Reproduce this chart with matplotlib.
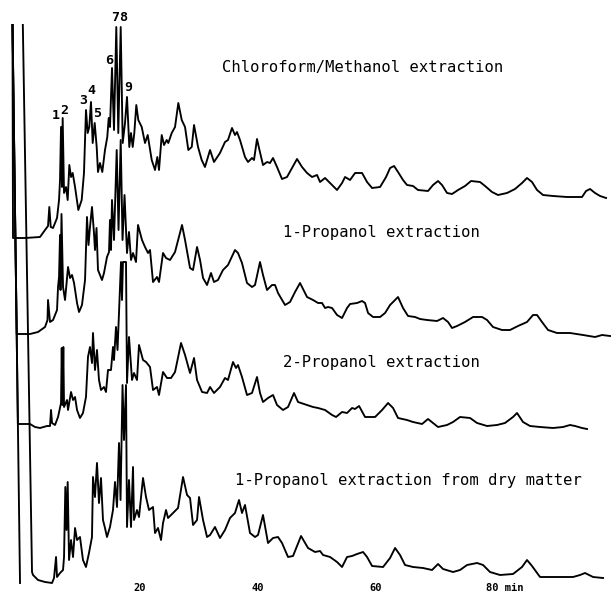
import matplotlib.pyplot as plt

# Retention time (min) and detector signal (arbitrary units, relative to the
# starting baseline of each run).

# Chloroform/Methanol extraction
cm_time = [-1.67, -1.58, 0.46, 3.01, 3.86, 4.37, 4.59, 4.83, 5.22, 5.90, 6.24, 6.41, 6.58, 6.75, 6.86,
           7.09, 7.43, 7.71, 7.99, 8.28, 8.56, 8.96, 9.52, 10.09, 10.48, 10.82, 11.11, 11.38, 11.67,
           11.96, 12.30, 12.64, 12.86, 13.20, 13.59, 14.05, 14.44, 14.68, 14.90, 15.24, 15.58, 15.97,
           16.31, 16.72, 17.06, 17.45, 17.79, 18.18, 18.47, 18.76, 19.03, 19.37, 19.71, 20.29, 20.85,
           21.31, 21.99, 22.55, 22.94, 23.23, 23.69, 24.08, 24.54, 24.81, 25.39, 25.95, 26.51, 27.09,
           27.65, 28.21, 28.79, 29.18, 29.86, 30.48, 31.04, 31.90, 32.57, 33.59, 34.44, 34.95, 35.63,
           36.14, 36.48, 36.99, 37.84, 38.35, 39.03, 39.37, 39.88, 40.22, 40.90, 41.58, 42.09, 42.60,
           43.28, 44.13, 44.98, 45.83, 46.68, 47.53, 48.38, 49.23, 50.08, 50.59, 51.44, 52.29, 53.48,
           54.33, 54.84, 55.69, 56.54, 57.73, 58.58, 59.43, 60.79, 61.81, 62.49, 63.17, 63.84, 64.69,
           65.37, 66.39, 67.24, 68.94, 69.79, 70.64, 71.32, 72.17, 73.02, 74.04, 75.23, 76.25, 77.78,
           78.63, 79.81, 80.83, 82.36, 83.72, 84.91, 85.76, 86.61, 87.46, 88.48, 90.18, 92.56, 95.11,
           95.79, 96.47, 97.32, 98.17, 99.19]
cm_signal = [214, 0, 0, 1, 8, 12, 31, 11, 10, 20, 38, 58, 111, 51, 120,
             45, 51, 38, 73, 61, 65, 51, 28, 38, 65, 128, 105, 111, 136,
             95, 115, 91, 66, 75, 66, 88, 101, 120, 111, 170, 108, 211,
             105, 211, 95, 115, 141, 91, 105, 91, 105, 133, 118, 111, 95,
             103, 78, 68, 81, 68, 103, 93, 98, 95, 105, 111, 135, 118,
             111, 88, 91, 113, 91, 78, 71, 88, 76, 85, 96, 98, 110,
             103, 106, 98, 81, 76, 80, 78, 99, 90, 73, 76, 75, 80,
             71, 59, 61, 70, 79, 71, 65, 61, 63, 56, 60, 55, 48,
             55, 61, 58, 65, 65, 56, 50, 51, 61, 70, 72, 66, 58,
             53, 52, 48, 47, 53, 57, 53, 45, 44, 48, 52, 57, 56,
             52, 46, 43, 45, 49, 55, 60, 56, 48, 43, 42, 41, 41,
             47, 49, 45, 42, 40]

# 1-Propanol extraction
p1_time = [-1.67, -0.95, 1.31, 2.67, 3.86, 4.28, 4.37, 4.71, 5.22, 5.90, 6.07, 6.24, 6.41, 6.49, 6.66,
           6.92, 7.26, 7.77, 8.11, 8.45, 8.79, 9.30, 9.64, 10.14, 10.66, 10.99, 11.25, 11.50, 11.84,
           12.18, 12.35, 12.61, 12.86, 13.54, 13.88, 14.39, 14.73, 14.90, 15.07, 15.24, 15.58, 16.04,
           16.35, 16.72, 17.03, 17.37, 17.79, 18.13, 18.47, 18.81, 19.32, 19.66, 20.34, 20.85, 21.36,
           21.70, 22.21, 22.89, 23.23, 23.91, 24.42, 25.10, 25.95, 27.14, 27.65, 28.50, 29.01, 29.69,
           30.20, 30.71, 31.39, 32.06, 32.57, 33.25, 34.10, 34.95, 36.14, 36.65, 37.33, 38.18, 39.03,
           39.54, 40.39, 40.90, 41.58, 42.43, 42.94, 43.45, 44.64, 45.49, 46.34, 47.19, 48.38, 49.40,
           50.25, 50.93, 51.44, 51.95, 52.63, 53.48, 54.33, 55.18, 55.69, 56.88, 57.73, 58.24, 58.75,
           59.60, 60.79, 61.64, 62.49, 63.84, 64.69, 65.54, 66.73, 67.58, 68.77, 70.47, 71.49, 72.34,
           73.02, 73.87, 75.23, 76.59, 78.12, 78.97, 79.98, 81.51, 82.87, 84.23, 85.76, 86.78, 87.46,
           88.31, 89.33, 90.86, 93.07, 95.28, 97.32, 98.51, 99.87]
p1_signal = [310, 0, 0, 2, 7, 14, 34, 12, 14, 24, 47, 57, 99, 44, 120,
             47, 34, 67, 56, 59, 51, 31, 22, 29, 54, 117, 89, 107, 127,
             101, 84, 106, 64, 54, 61, 77, 82, 114, 84, 134, 94, 184,
             104, 194, 94, 139, 81, 102, 74, 81, 72, 109, 94, 87, 81,
             84, 52, 57, 52, 81, 76, 74, 82, 109, 94, 66, 64, 87,
             74, 56, 49, 61, 52, 54, 64, 69, 84, 81, 71, 51, 47,
             49, 72, 59, 44, 49, 49, 41, 29, 32, 42, 51, 37, 34,
             31, 31, 26, 27, 26, 19, 16, 26, 30, 31, 33, 31, 21,
             17, 17, 21, 29, 37, 26, 18, 17, 15, 14, 13, 16, 12,
             6, 8, 12, 17, 17, 14, 7, 4, 4, 8, 12, 19, 19,
             12, 4, 1, 1, -1, -3, -1, -2]

# 2-Propanol extraction
p2_time = [-1.67, -0.75, 1.31, 2.16, 3.01, 4.20, 4.71, 4.88, 5.05, 5.56, 6.07, 6.58, 6.70, 6.83, 6.97,
           7.09, 7.60, 7.77, 8.28, 8.62, 8.96, 9.30, 9.80, 10.31, 10.82, 11.16, 11.50, 11.84, 12.01,
           12.35, 12.69, 13.03, 13.37, 13.88, 14.22, 14.56, 15.07, 15.41, 15.58, 15.92, 16.18, 16.52,
           16.77, 16.94, 17.10, 17.62, 17.79, 18.13, 18.64, 18.98, 19.49, 19.83, 20.51, 21.02, 21.70,
           22.21, 22.89, 23.23, 23.91, 24.59, 25.27, 25.95, 26.97, 27.65, 28.50, 29.18, 29.69, 30.54,
           31.39, 31.90, 32.57, 33.59, 34.44, 34.95, 35.80, 36.31, 36.65, 37.33, 38.18, 39.03, 39.88,
           40.39, 40.90, 41.75, 42.60, 43.28, 44.30, 45.15, 46.17, 46.85, 48.38, 49.40, 50.25, 51.44,
           52.63, 53.31, 54.33, 55.18, 56.03, 56.54, 57.22, 58.24, 59.94, 61.13, 62.15, 63.00, 63.84,
           65.37, 66.39, 67.92, 68.94, 69.79, 70.64, 72.17, 73.19, 74.38, 76.08, 77.27, 78.97, 80.66,
           82.02, 83.38, 84.06, 85.08, 86.27, 87.97, 90.18, 91.88, 93.07, 93.92, 95.11, 95.96]
p2_signal = [400, 0, 0, -3, -4, -2, -2, 14, 1, -1, 7, 21, 76, 19, 77,
             17, 24, 14, 32, 24, 27, 14, 6, 11, 27, 67, 77, 61, 91,
             54, 74, 44, 34, 37, 32, 54, 54, 77, 64, 97, 74, 124,
             162, 124, 162, 162, 41, 87, 44, 51, 44, 79, 64, 62, 57,
             34, 37, 29, 52, 46, 46, 52, 81, 69, 51, 66, 44, 32,
             31, 37, 31, 37, 46, 44, 62, 56, 59, 47, 29, 31, 47,
             31, 22, 26, 29, 19, 14, 17, 31, 22, 19, 17, 16, 14,
             9, 7, 12, 11, 16, 15, 18, 7, 7, 14, 21, 16, 6,
             4, 2, 0, 5, 1, -3, -1, 2, 7, 6, 1, -2, -1,
             1, 7, 11, 2, -2, -3, -4, -3, -1, -2, -4, -5]

# 1-Propanol extraction from dry matter
dm_time = [-0.39, -1.75, -0.03, 1.65, 1.82, 2.67, 3.86, 5.05, 5.39, 5.73, 5.90, 6.41, 6.92, 7.09, 7.31,
           7.51, 7.71, 7.94, 8.28, 8.62, 8.96, 9.30, 9.80, 10.31, 10.82, 11.33, 11.84, 12.01, 12.35,
           12.69, 13.03, 13.37, 13.71, 14.05, 14.39, 14.90, 15.41, 15.75, 16.09, 16.43, 16.69, 17.03,
           17.28, 17.62, 17.79, 18.13, 18.47, 18.81, 18.98, 19.49, 19.83, 20.51, 21.02, 21.53, 22.21,
           22.55, 23.06, 23.57, 23.91, 24.42, 24.76, 25.61, 26.46, 27.31, 27.99, 28.50, 29.01, 29.69,
           30.03, 30.71, 31.39, 31.90, 32.74, 33.59, 34.44, 35.29, 36.14, 36.82, 37.33, 37.84, 38.69,
           39.54, 40.05, 40.90, 41.75, 42.60, 43.45, 44.13, 45.15, 46.00, 47.36, 48.55, 49.74, 50.59,
           51.10, 52.29, 53.48, 54.33, 55.18, 56.03, 56.88, 57.90, 58.58, 59.43, 61.30, 62.49, 63.34,
           64.18, 65.03, 66.39, 68.09, 69.62, 70.64, 71.49, 73.19, 74.38, 75.57, 77.27, 78.29, 79.47,
           81.17, 83.38, 84.91, 85.76, 86.61, 87.97, 90.86, 93.58, 94.77, 95.62, 96.98, 98.68]
dm_signal = [0, 600, 600, 11, 8, 3, 1, 0, 5, 26, 6, 10, 13, 26, 96,
             53, 101, 23, 43, 26, 55, 43, 46, 23, 16, 30, 46, 106, 86,
             120, 80, 105, 63, 55, 46, 56, 73, 101, 76, 140, 83, 198,
             143, 198, 56, 103, 56, 116, 63, 73, 66, 105, 86, 73, 76,
             50, 55, 43, 60, 73, 65, 70, 75, 106, 88, 85, 58, 63,
             86, 63, 46, 48, 56, 45, 53, 65, 70, 83, 70, 78, 50,
             46, 48, 68, 40, 45, 46, 40, 26, 27, 47, 35, 31, 32,
             28, 26, 21, 16, 26, 27, 29, 31, 26, 17, 16, 25, 35,
             28, 18, 16, 15, 13, 19, 14, 11, 13, 18, 20, 18, 11,
             8, 9, 16, 23, 17, 6, 6, 6, 8, 10, 6, 5]

run_names = ["Chloroform/Methanol extraction", "1-Propanol extraction",
             "2-Propanol extraction", "1-Propanol extraction from dry matter"]

# peak numbering on the top run
peak_ids = ["1", "2", "3", "4", "5", "6", "7", "8", "9"]
peak_times = [5.75, 7.1, 10.3, 11.75, 12.75, 14.7, 15.75, 17.15, 18.0]

tick_minutes = [20, 40, 60, 80]
tick_labels = ["20", "40", "60", "80 min"]

# ---- layout (stacking of the recorder traces) ----
offsets = [355, 259, 169, 10]
label_pos = [(33.9, 526), (44.3, 361), (44.3, 230), (36.1, 112)]
peak_label_y = [478, 483, 493, 503, 480, 533, 576, 576, 506]

mono = "DejaVu Sans Mono"

fig = plt.figure(figsize=(6.11, 5.93), dpi=100)
ax = fig.add_axes([0, 0, 1, 569 / 593])
ax.set_xlim(-3.79, 100.03)
ax.set_ylim(0, 569)
ax.axis("off")

runs = [(cm_time, cm_signal), (p1_time, p1_signal), (p2_time, p2_signal), (dm_time, dm_signal)]
for (t, s), off in zip(runs, offsets):
    ax.plot(t, [v + off for v in s], color="black", lw=1.35, solid_joinstyle="round")

for name, (x, y) in zip(run_names, label_pos):
    ax.text(x, y, name, fontfamily=mono, fontsize=11.2, ha="left", va="center")

for pid, t, y in zip(peak_ids, peak_times, peak_label_y):
    ax.text(t, y, pid, fontfamily=mono, fontsize=9.5, fontweight="bold",
            ha="center", va="center", clip_on=False)

for t, lab in zip(tick_minutes, tick_labels):
    if lab.endswith("min"):
        ax.annotate(lab, xy=(t, 5), xytext=(-5, 0), textcoords="offset points",
                    fontfamily=mono, fontsize=7.5, fontweight="bold", ha="left", va="center")
    else:
        ax.text(t, 5, lab, fontfamily=mono, fontsize=7.5, fontweight="bold",
                ha="center", va="center")

fig.savefig("out.png", dpi=100)
